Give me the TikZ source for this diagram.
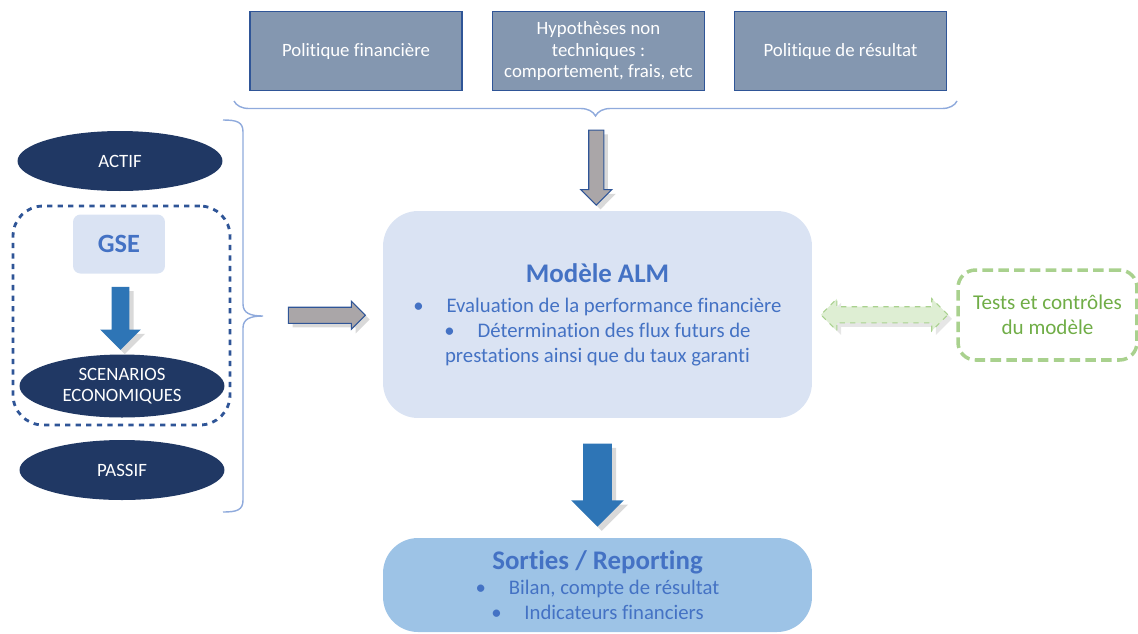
\documentclass[tikz,border=0pt]{standalone}
\usepackage{fontspec}
\setmainfont{Carlito}[Ligatures=NoCommon]
\usetikzlibrary{shapes.geometric,shapes.arrows,shadows,decorations.pathreplacing,calc}

\definecolor{topfill}{RGB}{132,151,176}
\definecolor{topline}{RGB}{47,85,151}
\definecolor{bracecol}{RGB}{143,170,220}
\definecolor{navyfill}{RGB}{32,56,100}
\definecolor{lightfill}{RGB}{218,227,243}
\definecolor{titleblue}{RGB}{68,114,196}
\definecolor{midblue}{RGB}{46,117,182}
\definecolor{outfill}{RGB}{157,195,230}
\definecolor{arrowgrey}{RGB}{170,166,168}
\definecolor{greenfill}{RGB}{222,238,211}
\definecolor{greenline}{RGB}{169,209,142}
\definecolor{greentext}{RGB}{112,173,71}

\begin{document}
\begin{tikzpicture}[x=0.02cm, y=-0.02cm,
    topbox/.style={draw=topline, line width=0.6pt, fill=topfill, text=white, minimum width=4.24cm, minimum height=1.58cm, align=center, font=\fontsize{10.7}{12.5}\selectfont},
    oval/.style={ellipse, fill=navyfill, text=white, minimum width=4.1cm, minimum height=1.2cm, inner sep=0pt, align=center, font=\fontsize{10.7}{12.3}\selectfont},
    bigbox/.style={rounded corners=0.7cm, minimum width=8.58cm, align=center, text=titleblue, font=\fontsize{11.8}{14.2}\selectfont},
    greyarrow/.style={single arrow, draw=topline, line width=0.6pt, fill=arrowgrey, inner xsep=0pt, drop shadow={opacity=0.3}},
    bluearrow/.style={single arrow, fill=midblue, inner xsep=0pt, drop shadow={opacity=0.3}},
    bracket/.style={draw=bracecol, line width=0.8pt}]
    \useasboundingbox (0,0) rectangle (1138,633);

    % Top inputs
    \node[topbox] (polfin) at (356,51) {Politique financière};
    \node[topbox] (hypo) at (598.5,51) {Hypothèses non\\techniques :\\comportement, frais, etc};
    \node[topbox] (polres) at (840.5,51) {Politique de résultat};
    \draw[bracket, decorate, decoration={brace, mirror, amplitude=0.3cm}] (234,101) -- (957,101);
    \coordinate (toptip) at (595,117);

    % Left inputs
    \node[draw=topline, dashed, line width=1.6pt, rounded corners=0.6cm, minimum width=4.34cm, minimum height=4.38cm] (eco) at (121.5,315.5) {};
    \node[oval] (actif) at (120,161) {ACTIF};
    \node[fill=lightfill, rounded corners=0.15cm, minimum width=1.84cm, minimum height=1.18cm, text=titleblue, font=\fontsize{15}{18}\selectfont\bfseries] (gse) at (119,244) {GSE};
    \node[oval, minimum height=1.26cm] (scen) at (122,386) {SCENARIOS\\ECONOMIQUES};
    \node[oval] (passif) at (122,470) {PASSIF};
    \node[bluearrow, rotate=-90, minimum height=1.26cm, inner ysep=0.17cm, single arrow head extend=0.23cm] (gsearrow) at ($(gse.south)!0.5!(scen.north)$) {};
    \coordinate (lefttip) at (263,316);
    \draw[bracket] (223,120) .. controls (237,120) and (243,122) .. (243,132) -- (243,304)
        .. controls (243,313) and (250,316) .. (lefttip) .. controls (250,316) and (243,319) .. (243,328)
        -- (243,500) .. controls (243,510) and (237,512) .. (223,512);

    % Model
    \node[bigbox, fill=lightfill, minimum height=4.14cm] (alm) at (597.5,314.5) {{\fontsize{15.3}{18}\selectfont\bfseries Modèle ALM}\\[3pt]
        \textbullet\hspace{1.1em}Evaluation de la performance financière\\
        \textbullet\hspace{1.1em}Détermination des flux futurs de\\
        prestations ainsi que du taux garanti};
    \node[bigbox, fill=outfill, minimum height=1.88cm] (out) at (597.5,585) {{\fontsize{15.3}{18}\selectfont\bfseries Sorties / Reporting}\\
        \textbullet\hspace{1.1em}Bilan, compte de résultat\\
        \textbullet\hspace{1.1em}Indicateurs financiers};
    \node[draw=greenline, dashed, dash pattern=on 6pt off 3pt, line width=2pt, rounded corners=0.35cm, minimum width=3.58cm, minimum height=1.8cm, align=center, text=greentext, font=\fontsize{12}{14.2}\selectfont] (tests) at (1047.5,315) {Tests et contrôles\\du modèle};

    % Arrows
    \node[greyarrow, rotate=-90, minimum height=1.5cm, inner ysep=0.14cm, single arrow head extend=0.16cm] (downarrow) at ($(toptip)!0.5!(alm.north)$) {};
    \node[greyarrow, minimum height=1.54cm, inner ysep=0.15cm, single arrow head extend=0.12cm] (rightarrow) at ($(lefttip)!0.5!(alm.west)$) {};
    \node[bluearrow, rotate=-90, minimum height=1.66cm, inner ysep=0.28cm, single arrow head extend=0.24cm] (outarrow) at ($(alm.south)!0.5!(out.north)$) {};
    \node[double arrow, draw=greenline, dashed, line width=0.6pt, fill=greenfill, minimum height=2.54cm, inner xsep=0pt, inner ysep=0.15cm, double arrow head extend=0.16cm, drop shadow={opacity=0.2}] (testarrow) at ($(alm.east)!0.5!(tests.west)$) {};
\end{tikzpicture}
\end{document}
